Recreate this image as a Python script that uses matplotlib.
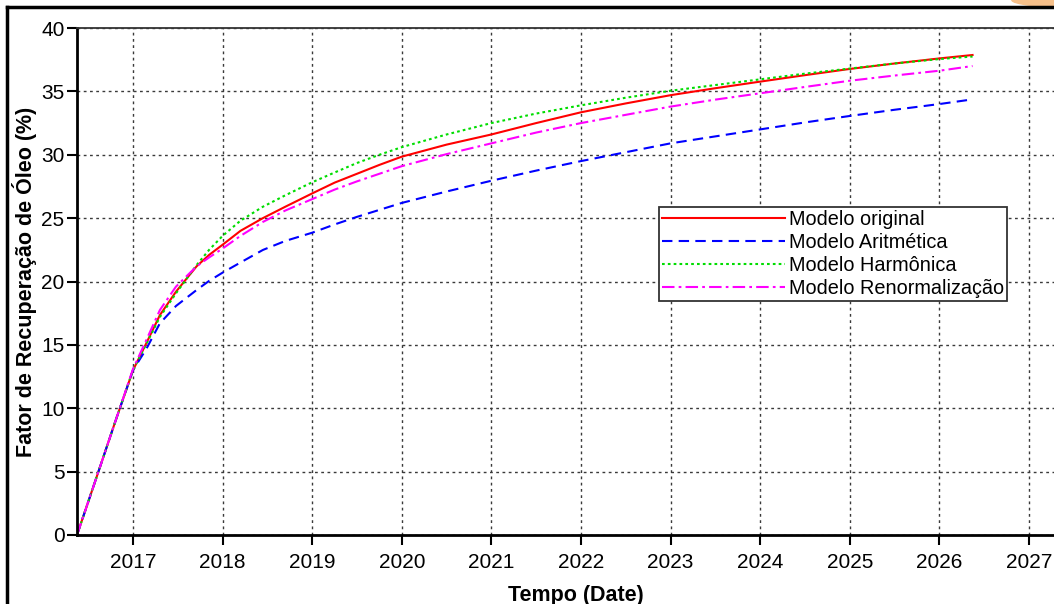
import matplotlib
matplotlib.use("Agg")
import matplotlib.pyplot as plt
from matplotlib.lines import Line2D
from matplotlib.patches import Ellipse

plt.rcParams.update({
    "font.family": ["Liberation Sans", "DejaVu Sans"],
    "font.size": 15,
})

# time axis (decimal years) and recovery factor (%)
tempo = [2016.375, 2016.6, 2016.8, 2017.0, 2017.15, 2017.3, 2017.48, 2017.71,
         2017.85, 2018.0, 2018.2, 2018.45, 2018.7, 2019.0, 2019.25, 2019.5,
         2019.75, 2020.0, 2020.5, 2021.0, 2021.5, 2022.0, 2022.5, 2023.0,
         2023.5, 2024.0, 2024.5, 2025.0, 2025.5, 2026.0, 2026.37]

original = [0, 4.7, 8.9, 13.0, 15.15, 17.35, 19.2, 21.2,
            22.1, 22.9, 24.0, 25.0, 25.9, 26.95, 27.8, 28.5,
            29.2, 29.85, 30.8, 31.6, 32.5, 33.35, 34.05, 34.7,
            35.25, 35.77, 36.28, 36.77, 37.2, 37.6, 37.87]
aritmetica = [0, 4.7, 8.9, 13.0, 14.7, 16.7, 18.07, 19.33,
              20.05, 20.7, 21.5, 22.49, 23.2, 23.85, 24.5, 25.1,
              25.65, 26.2, 27.1, 27.95, 28.75, 29.5, 30.2, 30.9,
              31.45, 32.0, 32.55, 33.06, 33.55, 34.0, 34.37]
harmonica = [0, 4.7, 8.9, 13.0, 15.1, 17.2, 19.07, 21.3,
             22.5, 23.6, 24.8, 25.9, 26.8, 27.83, 28.6, 29.35,
             30.0, 30.6, 31.6, 32.5, 33.25, 33.9, 34.5, 35.05,
             35.5, 35.95, 36.4, 36.8, 37.2, 37.55, 37.75]
renorm = [0, 4.7, 8.9, 13.1, 15.4, 17.75, 19.6, 21.2,
          21.9, 22.6, 23.6, 24.7, 25.6, 26.5, 27.25, 27.9,
          28.5, 29.1, 30.05, 30.9, 31.75, 32.5, 33.15, 33.8,
          34.35, 34.85, 35.35, 35.84, 36.25, 36.63, 37.0]

labels = ["Modelo original", "Modelo Aritmética", "Modelo Harmônica",
          "Modelo Renormalização"]
anos = list(range(2017, 2028))
yticks = list(range(0, 45, 5))

W, H = 1054, 604
fig = plt.figure(figsize=(W / 100, H / 100), dpi=100)

# axes runs past the right edge of the picture, as in the source
x0, x1 = 2016.375, 2027.5
px_per_year = 89.6
ax = fig.add_axes([77 / W, 69 / H, (x1 - x0) * px_per_year / W, 507 / H])

ax.plot(tempo, original, color="#ff0000", lw=1.5, label=labels[0])
ax.plot(tempo, aritmetica, color="#0000ff", lw=1.5, ls=(0, (5, 3)), label=labels[1])
ax.plot(tempo, harmonica, color="#00dd00", lw=1.5, ls=(0, (1.3, 1.5)), label=labels[2])
ax.plot(tempo, renorm, color="#ff00ff", lw=1.5, ls=(0, (6, 2, 1.3, 2)), label=labels[3])

ax.set_xlim(x0, x1)
ax.set_ylim(0, 40)
ax.set_xticks(anos)
ax.set_yticks(yticks)
ax.grid(True, color="#3a3a3a", ls=(0, (2, 2.5)), lw=1.0)
ax.set_axisbelow(True)

for s in ["left", "bottom"]:
    ax.spines[s].set_linewidth(2.0)
ax.spines["top"].set_linewidth(1.3)
ax.spines["top"].set_color("#333333")
ax.tick_params(axis="both", direction="out", length=7, width=1.5, pad=2)
ax.tick_params(axis="x", pad=6)

ax.set_xlabel("Tempo (Date)", fontweight="bold", fontsize=15.5, labelpad=9)
ax.set_ylabel("Fator de Recuperação de Óleo (%)", fontweight="bold",
              fontsize=15.5, labelpad=3)

leg = ax.legend(loc="upper left", bbox_to_anchor=(659 / W, 1 - 207 / H),
                bbox_transform=fig.transFigure, fancybox=False, shadow=False,
                framealpha=1, edgecolor="#333333", fontsize=14.3,
                handlelength=6.2, handletextpad=0.2, labelspacing=0.2,
                borderpad=0.15, borderaxespad=0)
leg.get_frame().set_linewidth(1.3)

# outer slide frame and decoration
fig.add_artist(Line2D([7 / W, 1], [1 - 7 / H, 1 - 7 / H], color="black",
                      lw=2.5, transform=fig.transFigure))
fig.add_artist(Line2D([7 / W, 7 / W], [0, 1 - 7 / H], color="black",
                      lw=2.5, transform=fig.transFigure))
fig.add_artist(Ellipse((1.02, 1.0), 0.12, 0.025, color="#f6c08a",
                       transform=fig.transFigure, zorder=-1))

fig.savefig("out.png", dpi=100)
